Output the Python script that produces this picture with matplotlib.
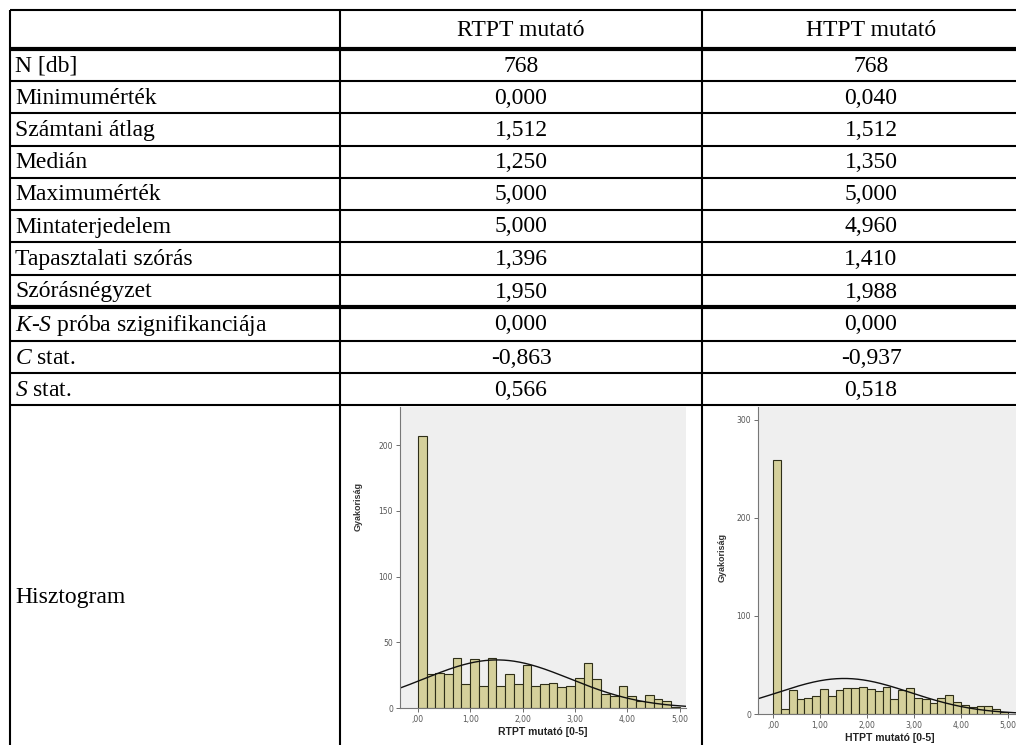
import matplotlib
matplotlib.use("Agg")
import matplotlib.pyplot as plt
import numpy as np

plt.rcParams['mathtext.fontset'] = 'custom'
plt.rcParams['mathtext.rm'] = 'Liberation Serif'
plt.rcParams['mathtext.it'] = 'Liberation Serif:italic'

W, H = 1016, 745

col_headers = ["RTPT mutató", "HTPT mutató"]
row_labels = ["N [db]", "Minimumérték", "Számtani átlag", "Medián", "Maximumérték",
              "Mintaterjedelem", "Tapasztalati szórás", "Szórásnégyzet",
              "$K$-$S$ próba szignifikanciája", "$C$ stat.", "$S$ stat."]
rtpt_vals = ["768", "0,000", "1,512", "1,250", "5,000", "5,000", "1,396", "1,950",
             "0,000", "-0,863", "0,566"]
htpt_vals = ["768", "0,040", "1,512", "1,350", "5,000", "4,960", "1,410", "1,988",
             "0,000", "-0,937", "0,518"]

# histogram counts, bins of width 1/6 from 0 to 5
bin_edges = np.linspace(0, 5, 31)
rtpt_counts = [207, 26, 27, 26, 38, 18, 37, 17, 38, 17, 26, 18, 33, 17, 18,
               19, 16, 17, 23, 34, 22, 11, 9, 17, 9, 5, 10, 7, 5, 1]
htpt_counts = [259, 5, 24, 15, 16, 18, 25, 18, 24, 26, 26, 28, 25, 23, 28,
               15, 24, 26, 16, 15, 11, 16, 19, 12, 9, 7, 8, 8, 5, 2]
n_obs = 768
rtpt_mean, rtpt_sd = 1.512, 1.396
htpt_mean, htpt_sd = 1.512, 1.410

fig = plt.figure(figsize=(W / 100, H / 100), dpi=100)
tab = fig.add_axes([0, 0, 1, 1])
tab.set_xlim(0, W)
tab.set_ylim(H, 0)
tab.axis('off')

row_lines = [10, 49, 81, 113, 146, 178, 210, 242, 275, 307, 341, 373, 405]
thick_rows = [49, 307]
col_lines = [10, 340, 702]
x_right = 1040

for y in row_lines:
    lw = 3.0 if y in thick_rows else 1.5
    tab.plot([10, x_right], [y, y], color='black', lw=lw, solid_capstyle='butt')
for x in col_lines:
    tab.plot([x, x], [10, H], color='black', lw=1.5, solid_capstyle='butt')

serif = 'Liberation Serif'
fs = 17
c2 = (340 + 702) / 2
c3 = (702 + x_right) / 2
tab.text(c2, 31, col_headers[0], ha='center', va='center', fontsize=fs, family=serif)
tab.text(c3, 31, col_headers[1], ha='center', va='center', fontsize=fs, family=serif)

for i, lab in enumerate(row_labels):
    yc = (row_lines[i + 1] + row_lines[i + 2]) / 2 + 1
    tab.text(15, yc, lab, ha='left', va='center', fontsize=fs, family=serif)
    tab.text(c2, yc, rtpt_vals[i], ha='center', va='center', fontsize=fs, family=serif)
    tab.text(c3, yc, htpt_vals[i], ha='center', va='center', fontsize=fs, family=serif)

tab.text(15, 598, "Hisztogram", ha='left', va='center', fontsize=fs, family=serif)


def histogram(rect, counts, mean, sd, xlim, ylim, yticks, xlabel, ylab_pos):
    ax = fig.add_axes(rect)
    ax.set_facecolor('#efefef')
    widths = np.diff(bin_edges)
    ax.bar(bin_edges[:-1], counts, width=widths, align='edge',
           color='#d5d09b', edgecolor='#2e2e18', linewidth=0.8)
    xs = np.linspace(xlim[0], xlim[1], 300)
    bw = widths[0]
    ys = n_obs * bw * np.exp(-0.5 * ((xs - mean) / sd) ** 2) / (sd * np.sqrt(2 * np.pi))
    ax.plot(xs, ys, color='#111111', lw=1.0)
    ax.set_xlim(*xlim)
    ax.set_ylim(*ylim)
    ax.set_xticks([0, 1, 2, 3, 4, 5])
    ax.set_xticklabels([",00", "1,00", "2,00", "3,00", "4,00", "5,00"])
    ax.set_yticks(yticks)
    ax.set_yticklabels([str(t) for t in yticks])
    for s in ['top', 'right']:
        ax.spines[s].set_visible(False)
    for s in ['left', 'bottom']:
        ax.spines[s].set_color('#777777')
        ax.spines[s].set_linewidth(0.8)
    ax.tick_params(labelsize=5.5, colors='#555555', length=3, width=0.6, pad=2)
    ax.set_xlabel(xlabel, fontsize=7.5, fontweight='bold', family='Liberation Sans',
                  color='#222222', labelpad=2)
    ax.set_ylabel("Gyakoriság", fontsize=6.5, fontweight='bold', family='Liberation Sans',
                  color='#333333')
    ax.yaxis.set_label_coords(*ylab_pos)
    return ax


def frac_rect(x0, y0, x1, y1):
    return [x0 / W, (H - y1) / H, (x1 - x0) / W, (y1 - y0) / H]


histogram(frac_rect(400, 407, 686, 708), rtpt_counts, rtpt_mean, rtpt_sd,
          (-0.34, 5.12), (0, 229), [0, 50, 100, 150, 200], "RTPT mutató [0-5]",
          (-0.13, 0.67))
histogram(frac_rect(758, 407, 1022, 714), htpt_counts, htpt_mean, htpt_sd,
          (-0.32, 5.3), (0, 313), [0, 100, 200, 300], "HTPT mutató [0-5]",
          (-0.12, 0.51))

fig.savefig("out.png", dpi=100, facecolor='white')
